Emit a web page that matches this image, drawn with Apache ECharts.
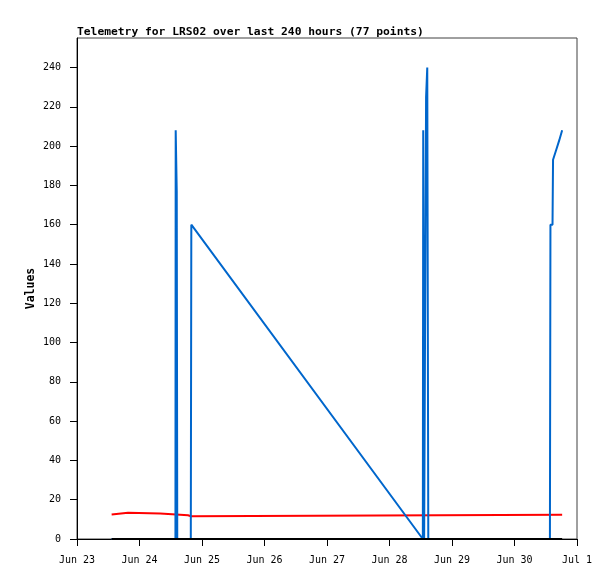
<!DOCTYPE html>
<html>
<head>
<meta charset="utf-8">
<script src="https://cdn.jsdelivr.net/npm/echarts@6/dist/echarts.min.js"></script>
<style>
html,body{margin:0;padding:0;background:#fff;}
#chart{width:615px;height:579px;}
</style>
</head>
<body>
<div id="chart"></div>
<script>
// hours since Jun 23 00:00
var xTickLabels = ['Jun 23','Jun 24','Jun 25','Jun 26','Jun 27','Jun 28','Jun 29','Jun 30','Jul 1'];
var yTicks = [0,20,40,60,80,100,120,140,160,180,200,220,240];

var redHours  = [13.3, 13.6, 19.6, 19.7, 31.9, 32.0, 39.6, 39.7, 42.6, 42.7, 43.8, 43.9, 186.3];
var redValues = [12.5, 13.4, 13.4, 13.0, 13.0, 12.4, 12.4, 12.1, 12.1, 11.6, 11.6, 12.3, 12.3];

var blueHours  = [13.3, 37.8, 37.9, 38.3, 38.5, 43.7, 43.9, 132.8, 132.95, 133.3, 133.9, 134.05, 134.5, 134.9, 181.6, 181.8, 182.6, 182.8, 184.0, 185.2, 186.3];
var blueValues = [0,    0,    208,  177,  0,    0,    160,  0,     208,    0,     0,     225,    240,   0,     0,     160,   160,   193,   198,   203,   208];

var zeroHours  = [13.3, 186.3];
var zeroValues = [0, 0];

function pairs(xs, ys){ return xs.map(function(x,i){ return [x, ys[i]]; }); }

var chart = echarts.init(document.getElementById('chart'));
chart.setOption({
  animation: false,
  backgroundColor: '#fff',
  title: {
    text: 'Telemetry for LRS02 over last 240 hours (77 points)',
    left: 77, top: 27, padding: 0,
    textStyle: {fontFamily: 'DejaVu Sans Mono', fontSize: 11.3, fontWeight: 'bold', color: '#000'}
  },
  grid: {left: 77, right: 38, top: 38, bottom: 40, show: true, borderColor: '#404040', borderWidth: 1, backgroundColor: 'transparent'},
  xAxis: {
    type: 'value', min: 0, max: 192, interval: 24,
    axisLine: {show: true, onZero: false, lineStyle: {color: '#000', width: 1}},
    axisTick: {show: true, inside: false, length: 7, lineStyle: {color: '#000'}},
    splitLine: {show: false},
    axisLabel: {
      margin: 16, color: '#000', fontFamily: 'DejaVu Sans Mono', fontSize: 10,
      formatter: function(v){ return xTickLabels[Math.round(v/24)] || ''; }
    }
  },
  yAxis: {
    type: 'value', min: 0, max: 255,
    name: 'Values', nameLocation: 'middle', nameGap: 40, nameRotate: 90, nameMoveOverlap: false,
    nameTextStyle: {fontFamily: 'DejaVu Sans Mono', fontSize: 11.5, fontWeight: 'bold', color: '#000'},
    axisLine: {show: true, lineStyle: {color: '#000', width: 1}},
    axisTick: {show: true, length: 7, lineStyle: {color: '#000'}, customValues: yTicks},
    splitLine: {show: false},
    axisLabel: {margin: 16, color: '#000', fontFamily: 'DejaVu Sans Mono', fontSize: 10, customValues: yTicks}
  },
  series: [
    {type: 'line', data: pairs(redHours, redValues), showSymbol: false, lineStyle: {color: '#ff0000', width: 2}, itemStyle: {color: '#ff0000'}, z: 2},
    {type: 'line', data: pairs(blueHours, blueValues), showSymbol: false, lineStyle: {color: '#0066cc', width: 2}, itemStyle: {color: '#0066cc'}, z: 3},
    {type: 'line', data: pairs(zeroHours, zeroValues), showSymbol: false, lineStyle: {color: '#000', width: 2}, itemStyle: {color: '#000'}, z: 4}
  ]
});
</script>
</body>
</html>
